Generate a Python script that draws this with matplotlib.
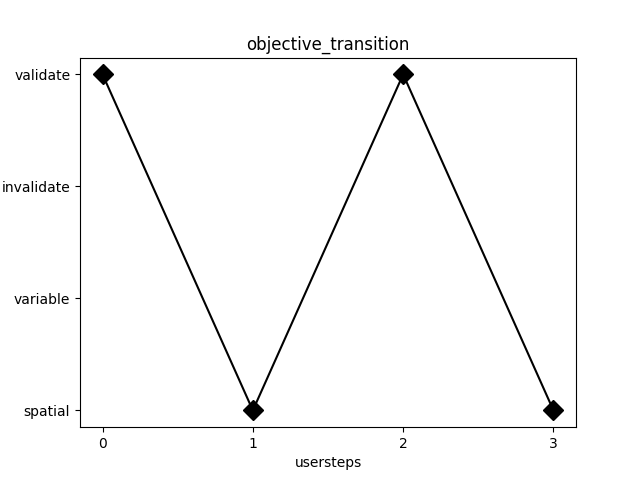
import matplotlib
matplotlib.use("Agg")
import matplotlib.pyplot as plt

# objective states, bottom to top
levels = ["spatial", "variable", "invalidate", "validate"]
steps = [0, 1, 2, 3]
objectives = ["validate", "spatial", "validate", "spatial"]

y = [levels.index(o) for o in objectives]

fig, ax = plt.subplots(figsize=(6.4, 4.8), dpi=100)
ax.plot(steps, y, color="black", marker="D", markersize=10)
ax.set_yticks(range(len(levels)))
ax.set_yticklabels(levels)
ax.set_xticks(steps)
ax.set_xlabel("usersteps")
ax.set_title("objective_transition")

fig.savefig("out.png")
